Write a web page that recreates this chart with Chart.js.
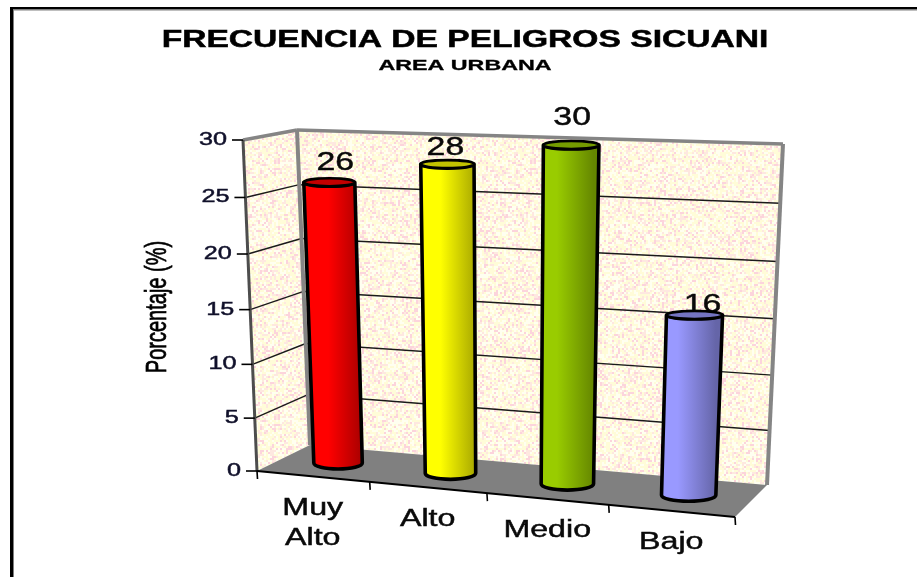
<!DOCTYPE html>
<html><head><meta charset="utf-8">
<style>html,body{margin:0;padding:0;background:#fff}canvas{display:block}</style>
<script src="https://cdn.jsdelivr.net/npm/chart.js@4"></script>
</head><body><canvas id="c" width="917" height="577"></canvas>
<script>
const titleText = "FRECUENCIA DE PELIGROS SICUANI";
const subtitleText = "AREA URBANA";
const yTitle = "Porcentaje (%)";
const categories = [["Muy","Alto"],["Alto"],["Medio"],["Bajo"]];
const values = [26,28,30,16];
const barColors = ["#ff0000","#ffff00","#99cc00","#9999ff"];
const yMin = 0, yMax = 30, yStep = 5;

// 3D box as seen in the picture
const A=[257,471],B=[735,517],C=[767,485],D=[310,445];
const E=[243,140],F=[749,159],G=[783,144],H=[297,130];
const labelNudge=[[6,-20],[-2,-17],[1,-28],[8,-11]];
const FONT='"Liberation Sans", Arial, sans-serif';
const lerp=(p,q,t)=>[p[0]+(q[0]-p[0])*t,p[1]+(q[1]-p[1])*t];
function proj(u,v,d){
  const uu=u-.076*u*(1-u), vv=v-.05*v*(1-v);
  const f=lerp(lerp(A,B,uu),lerp(D,C,uu),d);
  const t=lerp(lerp(E,F,uu),lerp(H,G,uu),d);
  return lerp(f,t,vv);
}
function norm(chart,x,y){
  const xs=chart.scales.x, ys=chart.scales.y;
  return [(x-xs.left)/xs.width,(ys.bottom-y)/ys.height];
}
function txt(ctx,s,x,y,font,sx,align,color,weight){
  ctx.save();ctx.translate(x,y+1);ctx.scale(sx,1);
  ctx.font=font;ctx.textAlign=align||'center';ctx.textBaseline='middle';
  ctx.fillStyle=color||'#0a0a0a';ctx.fillText(s,0,0);
  ctx.strokeStyle=ctx.fillStyle;ctx.lineWidth=weight==null?.45:weight;ctx.strokeText(s,0,0);
  ctx.restore();
}
function shade(hex,k){
  const n=parseInt(hex.slice(1),16);
  return `rgb(${Math.round((n>>16&255)*k)},${Math.round((n>>8&255)*k)},${Math.round((n&255)*k)})`;
}
function wallPattern(ctx){
  const c=document.createElement('canvas');c.width=c.height=256;
  const g=c.getContext('2d');let s=12345;
  const next=()=>{s=(s*1103515245+12345)&0x7fffffff;return (s>>8)/0x7fffff;};
  for(let y=0;y<256;y+=2)for(let x=0;x<256;x+=2){
    const r=next()%1;
    g.fillStyle=r<.38?'#fffcd8':r<.7?'#fffff0':r<.87?'#fee8e0':'#fcd4dc';
    g.fillRect(x,y,2,2);
  }
  const c2=document.createElement('canvas');c2.width=c2.height=256;
  const g2=c2.getContext('2d');g2.drawImage(c,0,0);
  g2.filter='blur(0.6px)';g2.drawImage(c,0,0);
  return ctx.createPattern(c2,'repeat');
}
function poly(ctx,pts){ctx.beginPath();pts.forEach((p,i)=>i?ctx.lineTo(p[0],p[1]):ctx.moveTo(p[0],p[1]));ctx.closePath();}
function seg(ctx,p,q,w,col){ctx.beginPath();ctx.moveTo(p[0],p[1]);ctx.lineTo(q[0],q[1]);ctx.lineWidth=w;ctx.strokeStyle=col;ctx.stroke();}

// Cylinders replace the flat bar rectangles, positioned from the bar elements
Chart.BarElement.prototype.draw=function(ctx){
  const chart=this.$context.chart;
  const [u,v]=norm(chart,this.x,this.y);
  const [,v0]=norm(chart,this.x,this.base);
  const hw=this.width/2/chart.scales.x.width;
  const base=this.options.backgroundColor;
  const bc=proj(u,v0,.5),tc=proj(u,v,.5);
  const bl=proj(u-hw,v0,.5),br=proj(u+hw,v0,.5);
  const tl=proj(u-hw,v,.5),tr=proj(u+hw,v,.5);
  const rxB=(br[0]-bl[0])/2,rxT=(tr[0]-tl[0])/2;
  const ryB=6,ryT=4;
  ctx.save();
  ctx.beginPath();
  ctx.moveTo(tc[0]-rxT,tc[1]);
  ctx.lineTo(bc[0]-rxB,bc[1]);
  ctx.ellipse(bc[0],bc[1],rxB,ryB,0,Math.PI,0,true);
  ctx.lineTo(tc[0]+rxT,tc[1]);
  ctx.ellipse(tc[0],tc[1],rxT,ryT,0,0,Math.PI,false);
  ctx.closePath();
  const gr=ctx.createLinearGradient(bc[0]-rxB,0,bc[0]+rxB,0);
  gr.addColorStop(0,base);gr.addColorStop(.3,base);gr.addColorStop(1,shade(base,.66));
  ctx.fillStyle=gr;ctx.fill();
  ctx.lineWidth=3.6;ctx.strokeStyle='#000';ctx.lineJoin='round';ctx.stroke();
  ctx.beginPath();ctx.ellipse(tc[0],tc[1],rxT,ryT,0,0,Math.PI*2);
  ctx.fillStyle=shade(base,.76);ctx.fill();
  ctx.lineWidth=2.6;ctx.stroke();
  ctx.restore();
};

const scene={
  id:'scene',
  beforeDatasetsDraw(chart){
    const ctx=chart.ctx, xs=chart.scales.x, ys=chart.scales.y;
    ctx.save();
    const pat=wallPattern(ctx);
    // frame of the picture
    ctx.fillStyle='#000';ctx.fillRect(10,7,907,2.5);ctx.fillRect(10,7,3,570);
    ctx.fillStyle='#808080';ctx.fillRect(13,9.5,904,1);ctx.fillRect(13,9.5,1,567.5);
    // walls and floor
    poly(ctx,[A,E,H,D]);ctx.fillStyle=pat;ctx.fill();
    poly(ctx,[D,H,G,C]);ctx.fillStyle=pat;ctx.fill();
    poly(ctx,[A,B,C,D]);ctx.fillStyle='#808080';ctx.fill();
    // value gridlines
    ys.ticks.forEach(t=>{
      const v=(t.value-yMin)/(yMax-yMin);
      if(t.value>yMin&&t.value<yMax){
        seg(ctx,proj(0,v,0),proj(0,v,1),1.4,'#1a1a1a');
        seg(ctx,proj(0,v,1),proj(1,v,1),1.4,'#1a1a1a');
      }
    });
    // wall edges
    seg(ctx,E,H,3.5,'#858585');seg(ctx,H,G,3.5,'#858585');seg(ctx,G,C,4,'#858585');seg(ctx,H,D,4,'#858585');
    seg(ctx,E,A,3,'#4d4d4d');
    seg(ctx,A,B,2.2,'#000');
    // y ticks
    ys.ticks.forEach(t=>{
      const v=(t.value-yMin)/(yMax-yMin), p=proj(0,v,0);
      seg(ctx,[p[0]-11,p[1]],p,1.6,'#000');
      txt(ctx,String(t.value),p[0]-16,p[1]-1,'18px '+FONT,1.4,'right','#10102a');
    });
    // x ticks and category labels
    for(let i=0;i<=categories.length;i++){
      const p=proj(i/categories.length,0,0);
      seg(ctx,p,[p[0]+.5,p[1]+8],1.6,'#000');
    }
    xs.ticks.forEach((t,i)=>{
      const p=proj((xs.getPixelForTick(i)-xs.left)/xs.width,0,0);
      categories[i].forEach((line,j)=>txt(ctx,line,p[0],p[1]+31+j*30,'23px '+FONT,1.4,'center','#0a0a0a'));
    });
    // value labels
    const meta=chart.getDatasetMeta(0);
    meta.data.forEach((el,i)=>{
      const [u,v]=norm(chart,el.x,el.y), p=proj(u,v,.5);
      txt(ctx,String(values[i]),p[0]+labelNudge[i][0],p[1]+labelNudge[i][1],'26px '+FONT,1.3,'center','#0a0a0a');
    });
    // titles
    txt(ctx,titleText,465,39,'bold 24px '+FONT,1.4,'center','#000',.5);
    txt(ctx,subtitleText,465,65,'bold 15px '+FONT,1.55,'center','#000',.3);
    ctx.save();ctx.translate(158,307);ctx.scale(1.5,1);ctx.rotate(-Math.PI/2);
    ctx.font='20px '+FONT;ctx.textAlign='center';ctx.textBaseline='middle';ctx.fillStyle='#000';
    ctx.fillText(yTitle,0,0);ctx.strokeStyle='#000';ctx.lineWidth=.5;ctx.strokeText(yTitle,0,0);ctx.restore();
    ctx.restore();
  }
};

new Chart(document.getElementById('c'),{
  type:'bar',
  data:{labels:categories,datasets:[{data:values,backgroundColor:barColors,categoryPercentage:1,barPercentage:.44}]},
  options:{
    responsive:false,animation:false,
    layout:{padding:0},
    plugins:{legend:{display:false},tooltip:{enabled:false}},
    scales:{
      x:{display:false},
      y:{display:false,min:yMin,max:yMax,ticks:{stepSize:yStep}}
    }
  },
  plugins:[scene]
});
</script></body></html>
